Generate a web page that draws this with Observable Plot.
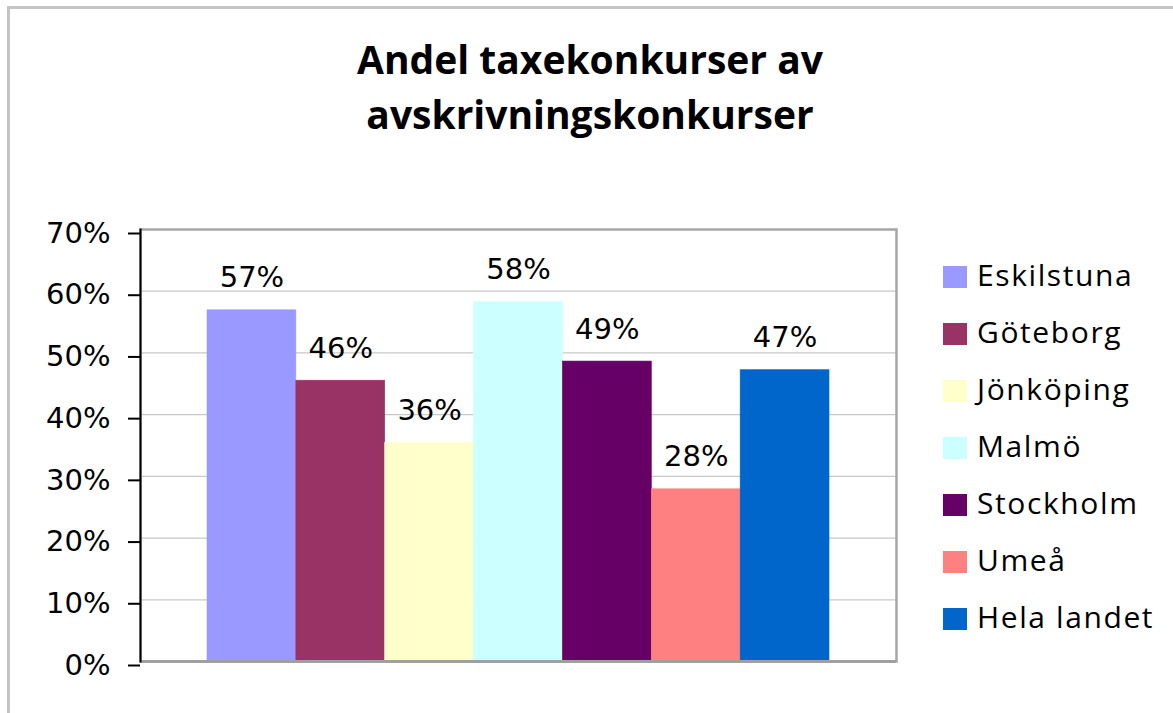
<!DOCTYPE html>
<html>
<head>
<meta charset="utf-8">
<script src="https://cdn.jsdelivr.net/npm/d3@7"></script>
<script src="https://cdn.jsdelivr.net/npm/@observablehq/plot@0.6"></script>
<style>
  html, body { margin: 0; padding: 0; background: #fff; }
  #wrap { position: relative; width: 1173px; height: 713px; overflow: hidden; background: #fff; }
  #border { position: absolute; left: 7px; top: 6px; width: 1200px; height: 800px; border-left: 3px solid #c4c4c4; border-top: 3px solid #c4c4c4; }
  #title { position: absolute; left: 0; width: 1180px; top: 31px; text-align: center; font-family: "Open Sans", sans-serif; font-weight: bold; font-size: 39px; line-height: 55px; color: #000; }
  #chart { position: absolute; left: 0; top: 0; }
  #legend { position: absolute; left: 943px; top: 249px; font-family: "Open Sans", sans-serif; font-size: 30px; letter-spacing: 1.6px; color: #000; }
  .item { position: relative; height: 57px; }
  .sw { position: absolute; left: 0; top: 17px; width: 24px; height: 22px; }
  .lab { position: absolute; left: 34px; top: 6px; white-space: nowrap; line-height: 40px; }
</style>
</head>
<body>
<div id="wrap">
  <div id="border"></div>
  <div id="title">Andel taxekonkurser av<br>avskrivningskonkurser</div>
  <div id="chart"></div>
  <div id="legend"></div>
</div>
<script>
const names = ["Eskilstuna", "Göteborg", "Jönköping", "Malmö", "Stockholm", "Umeå", "Hela landet"];
const values = [0.569, 0.455, 0.354, 0.582, 0.486, 0.279, 0.472];
const labels = ["57%", "46%", "36%", "58%", "49%", "28%", "47%"];
const colors = ["#9999ff", "#993366", "#ffffcc", "#ccffff", "#660066", "#ff8080", "#0066cc"];
const yTicks = [0, 0.1, 0.2, 0.3, 0.4, 0.5, 0.6, 0.7];

const data = names.map((n, i) => ({name: n, value: values[i], label: labels[i]}));

const chart = Plot.plot({
  width: 900,
  height: 713,
  marginLeft: 140,
  marginRight: 4,
  marginTop: 229,
  marginBottom: 52,
  style: {fontFamily: "DejaVu Sans", fontSize: "29px", color: "#000", background: "transparent"},
  x: {domain: names, paddingInner: 0, paddingOuter: 0.754, round: false, axis: null},
  y: {domain: [0, 0.7], label: null},
  color: {domain: names, range: colors},
  marks: [
    Plot.ruleY(yTicks.slice(1, -1), {stroke: "#c8c8c8", strokeWidth: 1.3, strokeOpacity: 1}),
    Plot.barY(data, {x: "name", y: "value", fill: "name", stroke: "name", strokeWidth: 0.6}),
    Plot.frame({stroke: "#a6a6a6", strokeWidth: 2.5}),
    Plot.ruleY([0], {stroke: "#a0a0a0", strokeWidth: 3}),
    Plot.axisY({ticks: yTicks, tickFormat: d3.format(".0%"), tickSize: 12, tickPadding: 18, stroke: "#000", strokeWidth: 2, strokeOpacity: 1, fontSize: 29, dy: 4, label: null}),
    Plot.frame({anchor: "left", stroke: "#000", strokeWidth: 2}),
    Plot.text(data, {x: "name", y: "value", text: "label", lineAnchor: "bottom", dy: -23, fontSize: 29, fill: "#000"})
  ]
});
document.getElementById("chart").appendChild(chart);

const legend = document.getElementById("legend");
names.forEach((n, i) => {
  const item = document.createElement("div");
  item.className = "item";
  const sw = document.createElement("div");
  sw.className = "sw";
  sw.style.background = colors[i];
  const lab = document.createElement("div");
  lab.className = "lab";
  lab.textContent = n;
  item.appendChild(sw);
  item.appendChild(lab);
  legend.appendChild(item);
});
</script>
</body>
</html>
